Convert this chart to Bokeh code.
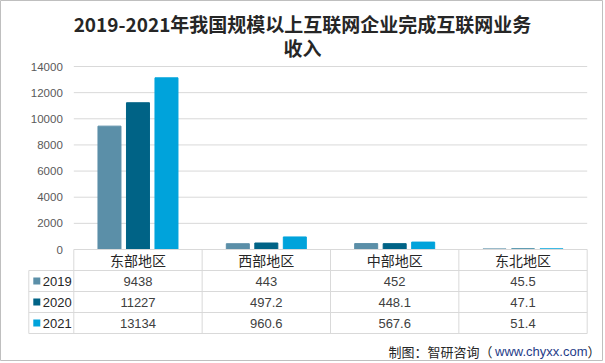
from bokeh.plotting import figure
from bokeh.models import Range1d
from bokeh.core.properties import value
from bokeh.embed import file_html
from bokeh.resources import INLINE

# ---------------- data ----------------
regions = ["东部地区", "西部地区", "中部地区", "东北地区"]
years = ["2019", "2020", "2021"]
v2019 = [9438, 443, 452, 45.5]
v2020 = [11227, 497.2, 448.1, 47.1]
v2021 = [13134, 960.6, 567.6, 51.4]
labels2019 = ["9438", "443", "452", "45.5"]
labels2020 = ["11227", "497.2", "448.1", "47.1"]
labels2021 = ["13134", "960.6", "567.6", "51.4"]
y_ticks = [0, 2000, 4000, 6000, 8000, 10000, 12000, 14000]
title_lines = ["2019-2021年我国规模以上互联网企业完成互联网业务", "收入"]
footer_parts = ["制图：智研咨询（", "www.chyxx.com", "）"]

series = [v2019, v2020, v2021]
series_labels = [labels2019, labels2020, labels2021]
colors = ["#5B8FA8", "#006386", "#00A3DB"]

# ---------------- layout (screen px -> data) ----------------
W, H = 603, 361
cat_left_px = 73.3
cat_w_px = 128.35
zero_px = 249.0
top_px = 66.0                      # screen y of 14000
ppu = (zero_px - top_px) / 14000   # px per value unit

x0 = -cat_left_px / cat_w_px
x1 = x0 + W / cat_w_px
y1 = zero_px / ppu
y0 = -(H - zero_px) / ppu

def sx(px):
    return (px - cat_left_px) / cat_w_px

def sy(px):
    return (zero_px - px) / ppu

p = figure(width=W, height=H, output_backend="svg", toolbar_location=None,
           x_range=Range1d(x0, x1), y_range=Range1d(y0, y1),
           min_border=0, min_border_left=0, min_border_right=0,
           min_border_top=0, min_border_bottom=0)
p.axis.visible = False
p.grid.visible = False
p.outline_line_color = "#BFBFBF"
p.outline_line_width = 1
p.background_fill_color = "white"

grid_col = "#D9D9D9"
n = len(regions)

# grid lines
gt = [t for t in y_ticks if t > 0]
p.segment(x0=[0] * len(gt), x1=[n] * len(gt), y0=gt, y1=gt,
          line_color=grid_col, line_width=1)

# y tick labels
p.text(x=[0] * len(y_ticks), y=y_ticks, text=[str(t) for t in y_ticks],
       x_offset=-11, text_align="right", text_baseline="middle",
       text_font=value("Liberation Sans"), text_font_size="11.5px",
       text_color="#595959")

# bars
bar_w = 23 / cat_w_px
offs = [-28.5 / cat_w_px, 0, 28.5 / cat_w_px]
for i, (vals, col) in enumerate(zip(series, colors)):
    xs = [k + 0.5 + offs[i] for k in range(n)]
    p.vbar(x=xs, top=vals, width=bar_w, bottom=0, fill_color=col,
           line_color=col, line_width=1)

# ---------------- data table ----------------
row_h = 21 / ppu
leg_left = sx(28.3)
rows_top = -row_h
bottom = -4 * row_h

p.segment(x0=[0], x1=[n], y0=[0], y1=[0], line_color=grid_col, line_width=1)
hy = [-row_h * (r + 1) for r in range(4)]
p.segment(x0=[leg_left] * 4, x1=[n] * 4, y0=hy, y1=hy,
          line_color=grid_col, line_width=1)
vx = list(range(n + 1))
p.segment(x0=vx, x1=vx, y0=[0] * len(vx), y1=[bottom] * len(vx),
          line_color=grid_col, line_width=1)
p.segment(x0=[leg_left], x1=[leg_left], y0=[rows_top], y1=[bottom],
          line_color=grid_col, line_width=1)

# header
p.text(x=[k + 0.5 for k in range(n)], y=[-row_h / 2] * n, text=regions,
       text_align="center", text_baseline="middle",
       text_font=value("Noto Sans CJK SC"), text_font_size="14px",
       text_color="#262626")

# rows
for r in range(3):
    yc = -row_h * (r + 1.5)
    p.scatter(x=[leg_left + 8 / cat_w_px], y=[yc], marker="square", size=7,
              fill_color=colors[r], line_color=None)
    p.text(x=[leg_left + 14 / cat_w_px], y=[yc], text=[years[r]],
           text_align="left", text_baseline="middle",
           text_font=value("Liberation Sans"), text_font_size="13px",
           text_color="#262626")
    p.text(x=[k + 0.5 for k in range(n)], y=[yc] * n, text=series_labels[r],
           text_align="center", text_baseline="middle",
           text_font=value("Liberation Sans"), text_font_size="13px",
           text_color="#404040")

# ---------------- title ----------------
tx = sx(302)
p.text(x=[tx, tx], y=[sy(23), sy(47)], text=title_lines,
       text_align="center", text_baseline="middle",
       text_font=value("Noto Sans CJK SC"), text_font_size="19px",
       text_font_style="bold", text_color="#262626")

# ---------------- footer ----------------
fy = sy(351)
p.text(x=[sx(600)], y=[fy], text=[footer_parts[2]],
       text_align="right", text_baseline="middle",
       text_font=value("Noto Sans CJK SC"), text_font_size="13px",
       text_color="#262626")
p.text(x=[sx(587)], y=[fy], text=[footer_parts[1]],
       text_align="right", text_baseline="middle",
       text_font=value("Liberation Sans"), text_font_size="13px",
       text_color="#1F3C88")
p.text(x=[sx(388)], y=[fy], text=[footer_parts[0]],
       text_align="left", text_baseline="middle",
       text_font=value("Noto Sans CJK SC"), text_font_size="13px",
       text_color="#262626")

open("out.html", "w").write(file_html(p, INLINE))
